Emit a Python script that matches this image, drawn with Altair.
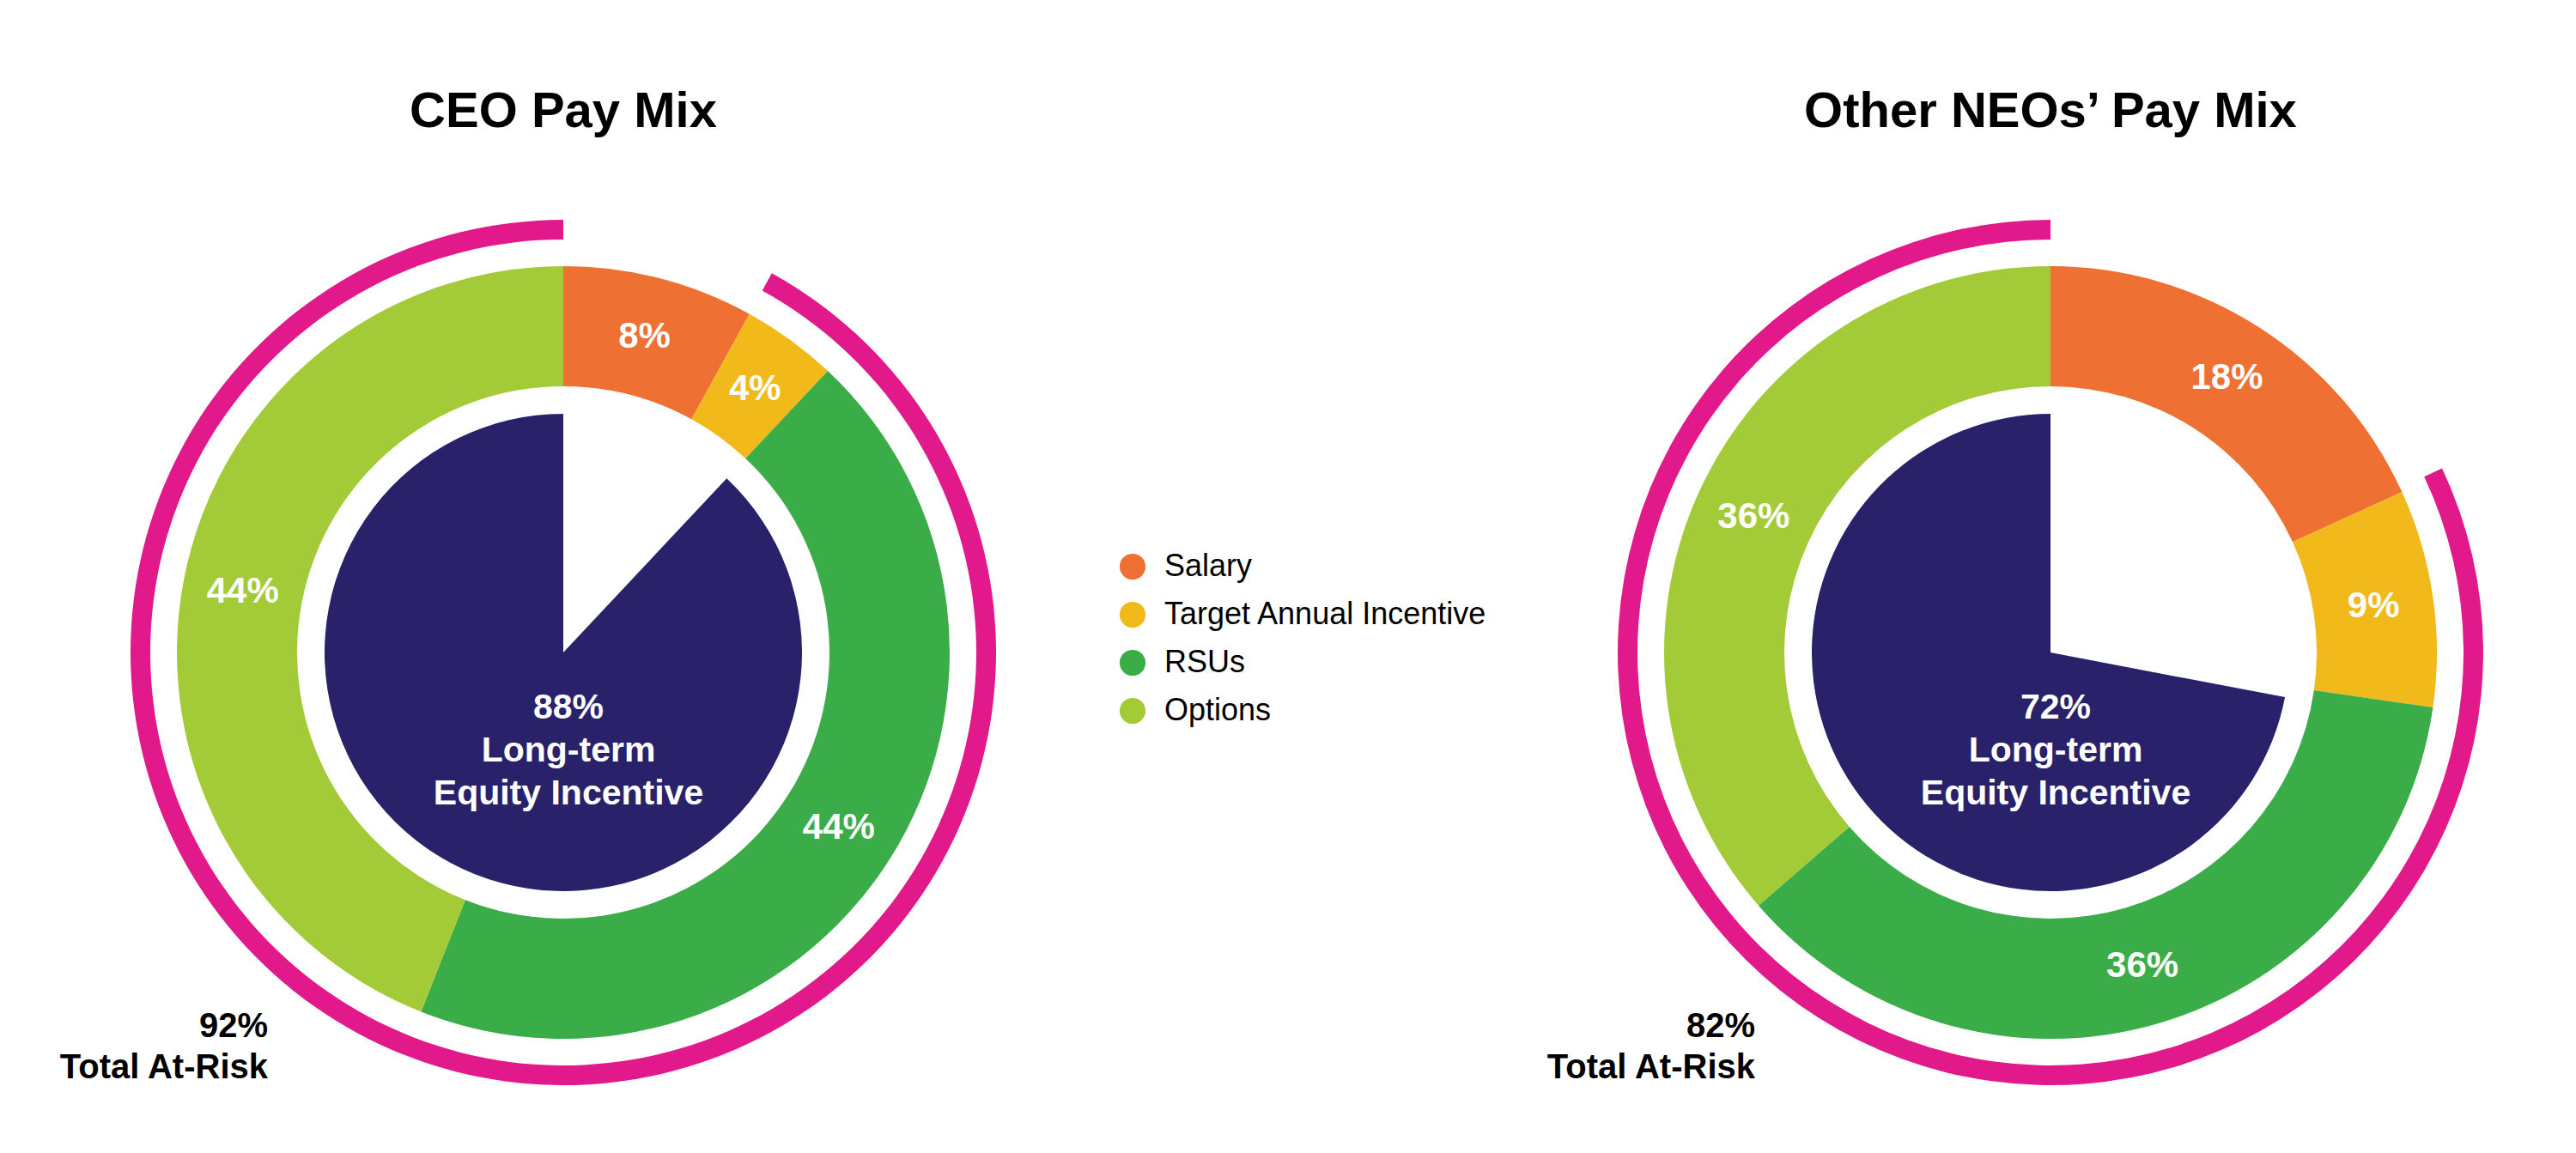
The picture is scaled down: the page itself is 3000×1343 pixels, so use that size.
import altair as alt
import pandas as pd

# ---- data ----
charts = ["CEO", "Other NEOs"]
titles = ["CEO Pay Mix", "Other NEOs\u2019 Pay Mix"]
components = ["Salary", "Target Annual Incentive", "RSUs", "Options"]
component_colors = ["#EE7033", "#F2B91B", "#3AAD48", "#A3CB38"]
ceo_mix = [8, 4, 44, 44]
neo_mix = [18, 9, 36, 36]
lti_pct = [88, 72]          # Long-term Equity Incentive
at_risk_pct = [92, 82]      # Total At-Risk

NAVY = "#2A216B"
MAGENTA = "#E2198A"
FONT = "Liberation Sans"

# ---- tables ----
ring_rows = []
for c, mix in zip(charts, [ceo_mix, neo_mix]):
    for i, (comp, v) in enumerate(zip(components, mix)):
        ring_rows.append({"chart": c, "component": comp, "value": v, "idx": i})
ring_df = pd.DataFrame(ring_rows)

lti_rows, risk_rows, text_rows = [], [], []
for c, t, l, r in zip(charts, titles, lti_pct, at_risk_pct):
    lti_rows += [{"chart": c, "part": "gap", "value": 100 - l, "idx": 0},
                 {"chart": c, "part": "lti", "value": l, "idx": 1}]
    risk_rows += [{"chart": c, "part": "gap", "value": 100 - r, "idx": 0},
                  {"chart": c, "part": "risk", "value": r, "idx": 1}]
    text_rows.append({"chart": c, "title": t,
                      "center": f"{l}%\nLong-term\nEquity Incentive",
                      "risk": f"{r}%\nTotal At-Risk"})
lti_df = pd.DataFrame(lti_rows)
risk_df = pd.DataFrame(risk_rows)
text_df = pd.DataFrame(text_rows)

xscale = alt.Scale(type="point", domain=charts, range=[648, 2380], padding=0)
X = alt.X("chart:N", scale=xscale, axis=None)
CY = alt.value(752)
order = alt.Order("idx:Q", sort="ascending")


def per_chart(base_df, c):
    return base_df[base_df["chart"] == c]


layers = []
for c in charts:
    # outer magenta arc (total at-risk)
    layers.append(
        alt.Chart(per_chart(risk_df, c)).mark_arc(radius=504, radius2=481, color=MAGENTA).encode(
            x=X, y=CY,
            theta=alt.Theta("value:Q", stack="normalize"),
            order=order,
            opacity=alt.condition("datum.part == 'gap'", alt.value(0), alt.value(1)),
        )
    )
    # donut of pay components
    layers.append(
        alt.Chart(per_chart(ring_df, c)).mark_arc(radius=450, radius2=310).encode(
            x=X, y=CY,
            theta=alt.Theta("value:Q", stack="normalize"),
            order=order,
            color=alt.Color(
                "component:N",
                scale=alt.Scale(domain=components, range=component_colors),
                legend=alt.Legend(
                    orient="none", legendX=1293, legendY=634, title=None,
                    symbolType="circle", symbolSize=908, symbolStrokeWidth=0,
                    symbolOpacity=1, labelFont=FONT, labelFontSize=36,
                    labelColor="#000000", labelLimit=800, labelOffset=19,
                    rowPadding=20, padding=0,
                ),
            ),
        )
    )
    # percentage labels on the donut
    layers.append(
        alt.Chart(per_chart(ring_df, c)).transform_calculate(
            label="datum.value + '%'"
        ).mark_text(radius=380, color="white", font=FONT, fontSize=42,
                    fontWeight="bold", baseline="middle", align="center").encode(
            x=X, y=CY,
            theta=alt.Theta("value:Q", stack="normalize"),
            order=order,
            text="label:N",
        )
    )
    # inner navy pie (long-term equity)
    layers.append(
        alt.Chart(per_chart(lti_df, c)).mark_arc(radius=278, color=NAVY).encode(
            x=X, y=CY,
            theta=alt.Theta("value:Q", stack="normalize"),
            order=order,
            opacity=alt.condition("datum.part == 'gap'", alt.value(0), alt.value(1)),
        )
    )

# titles
layers.append(
    alt.Chart(text_df).mark_text(font=FONT, fontSize=58, fontWeight="bold",
                                 color="#000000", baseline="alphabetic", align="center").encode(
        x=X, y=alt.value(140), text="title:N")
)
# centre text
layers.append(
    alt.Chart(text_df).mark_text(font=FONT, fontSize=41, fontWeight="bold", color="white",
                                 baseline="alphabetic", align="center", lineBreak="\n",
                                 lineHeight=50, dx=6).encode(
        x=X, y=alt.value(829), text="center:N")
)
# total at-risk text
layers.append(
    alt.Chart(text_df).mark_text(font=FONT, fontSize=40, fontWeight="bold", color="#000000",
                                 baseline="alphabetic", align="right", lineBreak="\n",
                                 lineHeight=48, dx=-344).encode(
        x=X, y=alt.value(1200), text="risk:N")
)

chart = alt.layer(*layers).properties(
    width=2984, height=1327,
    autosize=alt.AutoSizeParams(type="none"),
    padding=0,
).configure_view(stroke=None)

chart.save("out.html", embed_options={"renderer": "svg", "actions": False})
